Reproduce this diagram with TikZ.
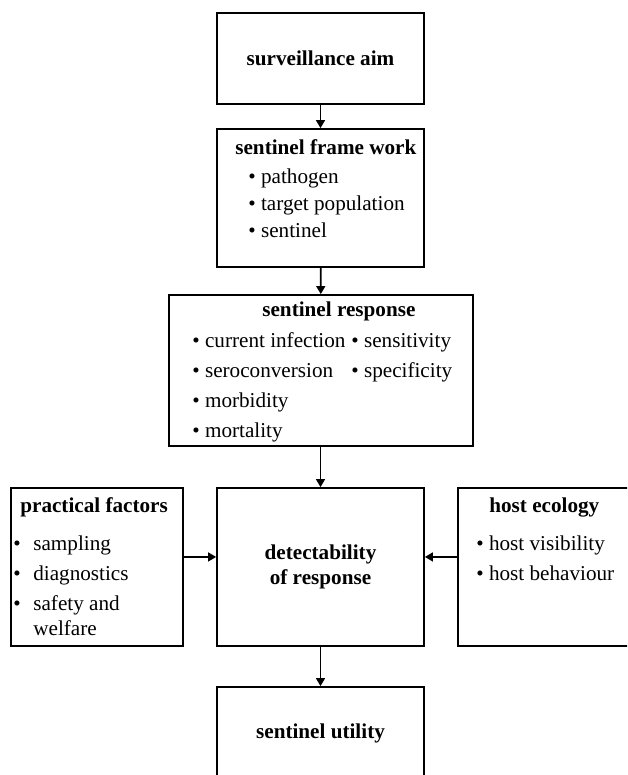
\documentclass[tikz,border=0pt]{standalone}
\usepackage{fontspec}
\setmainfont{Liberation Serif}
\usetikzlibrary{arrows.meta}

\begin{document}
\begin{tikzpicture}[x=0.567pt, y=-0.567pt,
    every node/.style={font=\fontsize{12}{14.4}\selectfont},
    box/.style={draw, line width=1pt, inner sep=0pt, align=center},
    boldtext/.style={font=\fontsize{12}{14.4}\selectfont\bfseries},
    title/.style={boldtext, inner sep=0pt, anchor=base west},
    item/.style={inner sep=0pt, anchor=base west},
    arr/.style={line width=1pt, -{Triangle[length=4.5pt,width=5pt]}}]
\useasboundingbox (0,0) rectangle (627,775);
\clip (0,0) rectangle (627,775);

% boxes
\node[box, boldtext, minimum width=207*0.567pt, minimum height=91*0.567pt] (aim) at (320.5,58.5) {surveillance aim};
\node[box, minimum width=207*0.567pt, minimum height=138*0.567pt] (frame) at (320.5,198) {};
\node[box, minimum width=304*0.567pt, minimum height=151*0.567pt] (resp) at (321,370.5) {};
\node[box, minimum width=172*0.567pt, minimum height=158*0.567pt] (practical) at (97,567) {};
\node[box, boldtext, minimum width=207*0.567pt, minimum height=158*0.567pt] (detect) at (320.5,567) {detectability\\of response};
\node[box, minimum width=172*0.567pt, minimum height=158*0.567pt] (host) at (544,567) {};
\node[box, boldtext, minimum width=207*0.567pt, minimum height=92*0.567pt] (utility) at (320.5,733) {sentinel utility};

% sentinel frame work
\node[title] (fwt) at (235,155) {sentinel frame work};
\foreach \t [count=\i] in {pathogen, target population, sentinel}
  \node[item] (fw\i) at (248,157+27*\i) {\textbullet\ \t};

% sentinel response
\node[title] (rst) at (262,317) {sentinel response};
\foreach \t [count=\i] in {current infection, seroconversion, morbidity, mortality}
  \node[item] (rl\i) at (192,317+30*\i) {\textbullet\ \t};
\foreach \t [count=\i] in {sensitivity, specificity}
  \node[item] (rr\i) at (351,317+30*\i) {\textbullet\ \t};

% practical factors
\node[title] (pft) at (20,512) {practical factors};
\foreach \t [count=\i] in {sampling, diagnostics, safety and} {
  \node[item] (pfb\i) at (13,520+30*\i) {\textbullet};
  \node[item] (pf\i) at (33,520+30*\i) {\t};
}
\node[item] (pf4) at (33,635) {welfare};

% host ecology
\node[title] (het) at (489,512) {host ecology};
\foreach \t [count=\i] in {host visibility, host behaviour}
  \node[item] (he\i) at (476,520+30*\i) {\textbullet\ \t};

% arrows
\draw[arr] (aim) -- (frame);
\draw[arr] (frame) -- (resp);
\draw[arr] (resp.south -| detect.north) -- (detect);
\draw[arr] ([yshift=5.7pt]practical.east) -- ([yshift=5.7pt]detect.west);
\draw[arr] ([yshift=5.7pt]host.west) -- ([yshift=5.7pt]detect.east);
\draw[arr] (detect) -- (utility);
\end{tikzpicture}
\end{document}
